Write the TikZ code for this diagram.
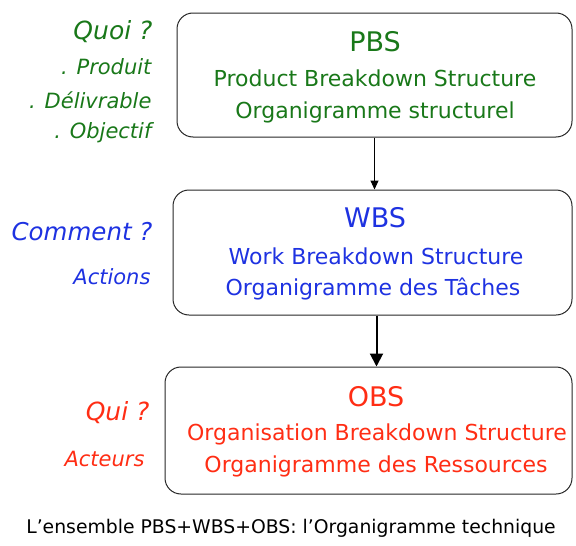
\documentclass[tikz,border=0pt]{standalone}
\usepackage{fontspec}
\setmainfont{DejaVu Sans}
\usetikzlibrary{arrows.meta}
\definecolor{pbsgreen}{RGB}{25,120,25}
\definecolor{wbsblue}{RGB}{30,50,225}
\definecolor{obsred}{RGB}{255,45,20}
\tikzset{
  bdbox/.style={draw=black!85, line width=1pt, rounded corners=16pt, inner sep=0pt},
  title/.style={font=\fontsize{27}{30}\selectfont},
  sub/.style={font=\fontsize{22}{26}\selectfont},
  question/.style={anchor=east, font=\fontsize{25}{30}\selectfont\itshape},
  hint/.style={anchor=east, font=\fontsize{21}{24}\selectfont\itshape},
  link/.style={draw=black, line width=1pt, -{Triangle[length=9pt,width=8pt]}},
  biglink/.style={draw=black, line width=2pt, -{Triangle[length=13pt,width=13pt]}},
}
\begin{document}
\begin{tikzpicture}[x=1pt,y=-1pt]
\useasboundingbox (0,0) rectangle (576,546);

% the three breakdown boxes
\node[bdbox, minimum width=395pt, minimum height=124pt] (pbs) at (374.5,75) {};
\node[bdbox, minimum width=399pt, minimum height=125pt] (wbs) at (372.5,252.5) {};
\node[bdbox, minimum width=407pt, minimum height=127pt] (obs) at (368.5,430.5) {};

% PBS contents
\node[title, pbsgreen] (pbst) at (375,42) {PBS};
\node[sub, pbsgreen] (pbs1) at (375,78) {Product Breakdown Structure};
\node[sub, pbsgreen] (pbs2) at (375,112) {Organigramme structurel};

% WBS contents
\node[title, wbsblue] (wbst) at (375,218) {WBS};
\node[sub, wbsblue] (wbs1) at (376,256) {Work Breakdown Structure};
\node[sub, wbsblue] (wbs2) at (373,289) {Organigramme des Tâches};

% OBS contents
\node[title, obsred] (obst) at (376,397) {OBS};
\node[sub, obsred] (obs1) at (377,434) {Organisation Breakdown Structure};
\node[sub, obsred] (obs2) at (376,466) {Organigramme des Ressources};

% questions on the left
\node[question, pbsgreen] (quoi) at (156,32) {Quoi ?};
\node[hint, pbsgreen] (prod) at (155,67) {. Produit};
\node[hint, pbsgreen] (deli) at (155,100) {. Délivrable};
\node[hint, pbsgreen] (obj) at (155,133) {. Objectif};
\node[question, wbsblue, font=\fontsize{24.5}{30}\selectfont\itshape] (comment) at (156,232) {Comment ?};
\node[hint, wbsblue] (actions) at (154,277) {Actions};
\node[question, obsred] (qui) at (153,413) {Qui ?};
\node[hint, obsred] (acteurs) at (148,459) {Acteurs};

% links between the levels
\draw[link] (pbs.south) -- (pbs.south |- wbs.north);
\draw[biglink] ([xshift=2pt]wbs.south -| pbs.south) -- ([xshift=2pt]pbs.south |- obs.north);

% caption
\node[font=\fontsize{18.8}{22}\selectfont] (caption) at (291,528) {L’ensemble PBS+WBS+OBS: l’Organigramme technique};
\end{tikzpicture}
\end{document}
